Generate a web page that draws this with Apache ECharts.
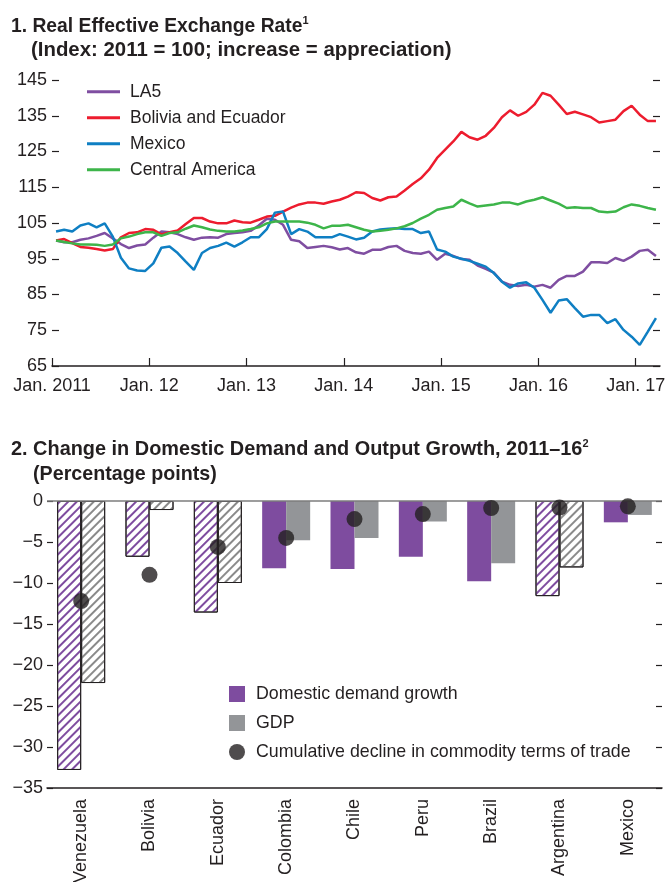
<!DOCTYPE html>
<html>
<head>
<meta charset="utf-8">
<title>Exchange rate and domestic demand</title>
<script src="https://cdn.jsdelivr.net/npm/echarts@6.0.0/dist/echarts.min.js"></script>
<style>
  html, body { margin: 0; padding: 0; background: #fff; }
  #chart { width: 665px; height: 882px; }
</style>
</head>
<body>
<div id="chart"></div>
<script>
'use strict';
// panel 1: monthly index, Jan. 2011 .. Mar. 2017
var yearLabels = ['Jan. 2011', 'Jan. 12', 'Jan. 13', 'Jan. 14', 'Jan. 15', 'Jan. 16', 'Jan. 17'];

var la5 = [100.1, 99.6, 99.6, 100.3, 100.7, 101.4, 102.2, 100.7, 99.1, 98.0,
  98.7, 99.0, 100.9, 102.6, 102.4, 101.9, 101.0, 100.3, 100.9, 101.0,
  100.9, 101.9, 102.2, 102.4, 102.8, 104.3, 106.2, 105.9, 104.5, 100.3,
  99.9, 98.0, 98.3, 98.6, 98.2, 97.6, 98.0, 96.8, 96.4, 97.5,
  97.5, 98.3, 98.6, 97.2, 96.6, 96.4, 97.0, 94.7, 96.4, 95.8,
  94.9, 94.7, 93.1, 92.2, 91.1, 88.6, 87.7, 87.4, 87.7, 87.2,
  87.7, 86.9, 89.1, 90.2, 90.2, 91.4, 94.0, 94.0, 93.8, 95.2,
  94.4, 95.6, 97.2, 97.5, 95.8];

var boliviaEcuador = [100.1, 100.5, 99.4, 98.3, 98.1, 97.7, 97.3, 97.7, 101.0, 102.2,
  102.4, 103.3, 103.1, 101.8, 102.4, 102.9, 104.7, 106.4, 106.4, 105.4,
  104.9, 104.9, 105.7, 105.2, 105.1, 105.9, 106.8, 107.0, 108.2, 109.3,
  110.2, 110.7, 110.7, 110.4, 111.0, 111.5, 112.4, 113.6, 113.4, 112.0,
  111.3, 112.2, 112.4, 114.1, 115.9, 117.5, 119.9, 123.2, 125.5, 127.8,
  130.5, 129.0, 128.3, 129.4, 131.6, 134.6, 136.5, 135.0, 136.1, 138.1,
  141.4, 140.6, 138.1, 135.5, 136.1, 135.4, 134.6, 133.1, 133.5, 133.9,
  136.3, 137.8, 135.3, 133.5, 133.5];

var mexico = [102.6, 103.1, 102.6, 104.3, 104.9, 103.8, 104.9, 101.2, 95.3, 92.3,
  91.7, 91.6, 93.7, 98.1, 98.4, 96.6, 94.2, 91.9, 96.6, 98.0,
  98.6, 99.5, 98.4, 99.6, 101.0, 101.0, 103.3, 107.9, 108.2, 101.9,
  103.3, 102.6, 101.0, 101.0, 101.0, 101.9, 101.2, 100.4, 100.9, 102.6,
  103.2, 103.4, 103.5, 103.3, 103.3, 102.2, 102.6, 97.6, 97.0, 95.6,
  95.0, 94.4, 93.6, 92.8, 91.0, 88.6, 86.9, 88.1, 88.4, 86.9,
  83.5, 79.9, 83.3, 83.7, 81.2, 78.8, 79.3, 79.3, 77.0, 78.1,
  75.1, 73.2, 70.9, 74.6, 78.4];

var centralAmerica = [100.1, 99.7, 99.3, 99.0, 99.0, 98.9, 98.6, 99.0, 100.7, 101.2,
  101.9, 102.4, 102.4, 101.4, 102.2, 102.4, 103.4, 104.3, 103.8, 103.2,
  102.8, 102.6, 102.6, 102.9, 103.3, 103.8, 104.9, 105.4, 105.4, 105.4,
  105.4, 105.1, 104.5, 103.5, 104.2, 104.2, 104.5, 103.8, 103.1, 102.6,
  102.8, 103.1, 103.5, 104.1, 105.0, 106.2, 107.3, 108.7, 109.2, 109.6,
  111.5, 110.5, 109.6, 109.9, 110.2, 110.7, 110.7, 110.2, 111.0, 111.5,
  112.2, 111.3, 110.4, 109.2, 109.4, 109.2, 109.2, 108.2, 108.0, 108.2,
  109.4, 110.2, 109.8, 109.2, 108.7];

// panel 2
var countries = ['Venezuela', 'Bolivia', 'Ecuador', 'Colombia', 'Chile', 'Peru', 'Brazil', 'Argentina', 'Mexico'];
var hatched = ['Venezuela', 'Bolivia', 'Ecuador', 'Argentina'];
var demandGrowth = [-32.8, -6.8, -13.6, -8.2, -8.3, -6.8, -9.8, -11.6, -2.6];
var gdp = [-22.2, -1.1, -10.0, -4.8, -4.5, -2.5, -7.6, -8.1, -1.7];
var termsOfTrade = [-12.2, -9.0, -5.6, -4.5, -2.2, -1.6, -0.85, -0.8, -0.65];

var FONT = '"Liberation Sans", Arial, sans-serif';
var INK = '#231f20';
var PURPLE = '#7e4c9f';
var GREY = '#939598';

var chart = echarts.init(document.getElementById('chart'), null, { renderer: 'canvas' });

// one tick per January, 12 months apart
var janTicks = yearLabels.map(function (l, k) { return k * 12; });

function monthly(arr) {
  return arr.map(function (v, i) { return [i + 0.5, v]; });
}

function hatchStyle(c) {
  return {
    color: '#fff',
    borderColor: INK,
    borderWidth: 1,
    decal: {
      symbol: 'rect',
      symbolSize: 1,
      color: c,
      dashArrayX: [1, 0],
      dashArrayY: [1.4, 3.9],
      rotation: -Math.PI / 4
    }
  };
}

function barData(values, c) {
  return values.map(function (v, i) {
    if (hatched.indexOf(countries[i]) >= 0) {
      return { value: v, itemStyle: hatchStyle(c) };
    }
    return v;
  });
}

function titleStyle(size) {
  return { fontFamily: FONT, fontSize: size, fontWeight: 'bold', color: INK, lineHeight: 22 };
}
var supRich = { fontFamily: FONT, fontSize: 11, fontWeight: 'bold', color: INK, lineHeight: 12, verticalAlign: 'top' };
var tickStyle = { color: INK, width: 1.2 };

var option = {
  animation: false,
  backgroundColor: '#fff',
  textStyle: { fontFamily: FONT, color: INK },
  title: [{
    left: 11, top: 15.5, padding: 0,
    text: '{t|1. Real Effective Exchange Rate}{s|1}',
    textStyle: { rich: { t: titleStyle(19.3), s: supRich } }
  }, {
    left: 31, top: 39.2, padding: 0,
    text: '(Index: 2011 = 100; increase = appreciation)',
    textStyle: titleStyle(20.4)
  }, {
    left: 11, top: 438.2, padding: 0,
    text: '{t|2. Change in Domestic Demand and Output Growth, 2011\u201316}{s|2}',
    textStyle: { rich: { t: titleStyle(19.9), s: supRich } }
  }, {
    left: 33, top: 463.2, padding: 0,
    text: '(Percentage points)',
    textStyle: titleStyle(19.7)
  }],
  legend: [{
    orient: 'vertical',
    left: 87, top: 82.7, padding: 0,
    itemWidth: 33, itemHeight: 3, itemGap: 8,
    icon: 'rect',
    selectedMode: false,
    textStyle: { fontFamily: FONT, fontSize: 17.5, color: INK, lineHeight: 18, padding: [0, 0, 0, 5] },
    data: ['LA5', 'Bolivia and Ecuador', 'Mexico', 'Central America']
  }, {
    orient: 'vertical',
    left: 229, top: 685, padding: 0,
    itemWidth: 16, itemHeight: 16, itemGap: 11,
    selectedMode: false,
    textStyle: { fontFamily: FONT, fontSize: 17.8, color: INK, lineHeight: 16, padding: [0, 0, 0, 6] },
    data: [
      { name: 'Domestic demand growth', icon: 'rect' },
      { name: 'GDP', icon: 'rect' },
      { name: 'Cumulative decline in commodity terms of trade', icon: 'circle' }
    ]
  }],
  grid: [
    { left: 52, right: 5, top: 80, height: 286, outerBoundsMode: 'none' },
    { left: 47, right: 3, top: 501, height: 287, outerBoundsMode: 'none' }
  ],
  xAxis: [{
    gridIndex: 0,
    type: 'value',
    min: 0, max: 75,
    axisLine: { onZero: false, lineStyle: { color: INK, width: 1.5 } },
    axisTick: { inside: true, length: 8, lineStyle: tickStyle, customValues: janTicks },
    axisLabel: {
      fontSize: 18, color: INK, margin: 11,
      customValues: janTicks,
      formatter: function (v) { return yearLabels[Math.round(v / 12)]; }
    },
    splitLine: { show: false }
  }, {
    gridIndex: 1,
    type: 'category',
    data: countries,
    axisLine: { onZero: false, lineStyle: { color: INK, width: 1.5 } },
    axisTick: { inside: true, length: 7, lineStyle: tickStyle },
    axisLabel: { rotate: 90, fontSize: 18, color: INK, margin: 11, interval: 0 },
    splitLine: { show: false }
  }],
  yAxis: [{
    gridIndex: 0, type: 'value', min: 65, max: 145, interval: 10,
    axisLine: { show: false },
    axisTick: { show: true, inside: true, length: 7, lineStyle: tickStyle },
    axisLabel: { fontSize: 18, color: INK, margin: 5 },
    splitLine: { show: false }
  }, {
    gridIndex: 0, type: 'value', position: 'right', min: 65, max: 145, interval: 10,
    axisLine: { show: false },
    axisTick: { show: true, inside: true, length: 7, lineStyle: tickStyle },
    axisLabel: { show: false },
    splitLine: { show: false }
  }, {
    gridIndex: 1, type: 'value', min: -35, max: 0, interval: 5,
    axisLine: { show: false },
    axisTick: { show: true, inside: true, length: 6, lineStyle: tickStyle },
    axisLabel: {
      fontSize: 18, color: INK, margin: 4,
      formatter: function (v) { return v < 0 ? '\u2212' + Math.abs(v) : String(v); }
    },
    splitLine: { show: false }
  }, {
    gridIndex: 1, type: 'value', position: 'right', min: -35, max: 0, interval: 5,
    axisLine: { show: false },
    axisTick: { show: true, inside: true, length: 6, lineStyle: tickStyle },
    axisLabel: { show: false },
    splitLine: { show: false }
  }],
  series: [{
    name: 'LA5', type: 'line', xAxisIndex: 0, yAxisIndex: 0,
    symbol: 'none', color: '#7f4ea1',
    lineStyle: { width: 2.5 },
    data: monthly(la5)
  }, {
    name: 'Bolivia and Ecuador', type: 'line', xAxisIndex: 0, yAxisIndex: 0,
    symbol: 'none', color: '#ed1c2e',
    lineStyle: { width: 2.5 },
    data: monthly(boliviaEcuador)
  }, {
    name: 'Mexico', type: 'line', xAxisIndex: 0, yAxisIndex: 0,
    symbol: 'none', color: '#0f7fc3',
    lineStyle: { width: 2.5 },
    data: monthly(mexico)
  }, {
    name: 'Central America', type: 'line', xAxisIndex: 0, yAxisIndex: 0,
    symbol: 'none', color: '#3db54a',
    lineStyle: { width: 2.5 },
    data: monthly(centralAmerica)
  }, {
    name: 'Domestic demand growth', type: 'bar', xAxisIndex: 1, yAxisIndex: 2,
    barWidth: 24, barGap: '0%',
    itemStyle: { color: PURPLE },
    data: barData(demandGrowth, PURPLE),
    markLine: {
      silent: true,
      symbol: ['none', 'none'],
      label: { show: false },
      lineStyle: { color: '#7d7d7d', width: 1.5, type: 'solid' },
      data: [{ yAxis: 0 }]
    }
  }, {
    name: 'GDP', type: 'bar', xAxisIndex: 1, yAxisIndex: 2,
    barWidth: 24, barGap: '0%',
    itemStyle: { color: GREY },
    data: barData(gdp, '#8a8a8a')
  }, {
    name: 'Cumulative decline in commodity terms of trade', type: 'scatter',
    xAxisIndex: 1, yAxisIndex: 2,
    symbolSize: 16, z: 5,
    itemStyle: { color: INK },
    data: termsOfTrade
  }]
};

chart.setOption(option);
</script>
</body>
</html>
